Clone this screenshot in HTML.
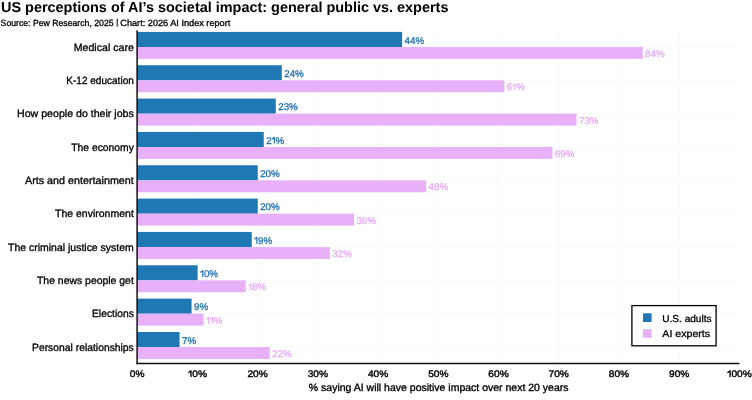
<!DOCTYPE html>
<html><head><meta charset="utf-8"><style>
html,body{margin:0;padding:0;background:#fff;width:752px;height:400px;overflow:hidden;font-family:"Liberation Sans",sans-serif;}
svg{display:block;will-change:transform} text{text-rendering:geometricPrecision}
</style></head><body>
<svg width="752" height="400" viewBox="0 0 752 400">
<rect width="752" height="400" fill="#fff"/>
<line x1="197.42" y1="30.3" x2="197.42" y2="363.5" stroke="#f8f8f8" stroke-width="0.8"/>
<line x1="257.64" y1="30.3" x2="257.64" y2="363.5" stroke="#f8f8f8" stroke-width="0.8"/>
<line x1="317.86" y1="30.3" x2="317.86" y2="363.5" stroke="#f8f8f8" stroke-width="0.8"/>
<line x1="378.08" y1="30.3" x2="378.08" y2="363.5" stroke="#f8f8f8" stroke-width="0.8"/>
<line x1="438.30" y1="30.3" x2="438.30" y2="363.5" stroke="#f8f8f8" stroke-width="0.8"/>
<line x1="498.52" y1="30.3" x2="498.52" y2="363.5" stroke="#f8f8f8" stroke-width="0.8"/>
<line x1="558.74" y1="30.3" x2="558.74" y2="363.5" stroke="#f8f8f8" stroke-width="0.8"/>
<line x1="618.96" y1="30.3" x2="618.96" y2="363.5" stroke="#f8f8f8" stroke-width="0.8"/>
<line x1="679.18" y1="30.3" x2="679.18" y2="363.5" stroke="#f8f8f8" stroke-width="0.8"/>
<line x1="137.45" y1="47.00" x2="739.5" y2="47.00" stroke="#f8f8f8" stroke-width="0.8"/>
<line x1="137.45" y1="80.34" x2="739.5" y2="80.34" stroke="#f8f8f8" stroke-width="0.8"/>
<line x1="137.45" y1="113.68" x2="739.5" y2="113.68" stroke="#f8f8f8" stroke-width="0.8"/>
<line x1="137.45" y1="147.02" x2="739.5" y2="147.02" stroke="#f8f8f8" stroke-width="0.8"/>
<line x1="137.45" y1="180.36" x2="739.5" y2="180.36" stroke="#f8f8f8" stroke-width="0.8"/>
<line x1="137.45" y1="213.70" x2="739.5" y2="213.70" stroke="#f8f8f8" stroke-width="0.8"/>
<line x1="137.45" y1="247.04" x2="739.5" y2="247.04" stroke="#f8f8f8" stroke-width="0.8"/>
<line x1="137.45" y1="280.38" x2="739.5" y2="280.38" stroke="#f8f8f8" stroke-width="0.8"/>
<line x1="137.45" y1="313.72" x2="739.5" y2="313.72" stroke="#f8f8f8" stroke-width="0.8"/>
<line x1="137.45" y1="347.06" x2="739.5" y2="347.06" stroke="#f8f8f8" stroke-width="0.8"/>
<rect x="137" y="31.90" width="265.11" height="15.1" fill="#1f77b4"/>
<rect x="137" y="47.00" width="505.71" height="11.9" fill="#e9b0fa"/>
<text y="43.60" font-size="9.8" fill="#1f70b2" stroke="#1f70b2" stroke-width="0.3" paint-order="stroke" font-family="Liberation Sans, sans-serif"><tspan x="404.51">4</tspan><tspan x="409.96">4</tspan><tspan x="415.41">%</tspan></text>
<text y="56.95" font-size="9.8" fill="#e3a7f5" stroke="#e3a7f5" stroke-width="0.25" paint-order="stroke" font-family="Liberation Sans, sans-serif"><tspan x="645.11">8</tspan><tspan x="650.56">4</tspan><tspan x="656.01">%</tspan></text>
<text x="133.8" y="50.55" font-size="10.6" text-anchor="end" textLength="60.05" lengthAdjust="spacingAndGlyphs" fill="#000" stroke="#000" stroke-width="0.32" paint-order="stroke" font-family="Liberation Sans, sans-serif">Medical care</text>
<rect x="137" y="65.24" width="144.81" height="15.1" fill="#1f77b4"/>
<rect x="137" y="80.34" width="367.36" height="11.9" fill="#e9b0fa"/>
<text y="76.94" font-size="9.8" fill="#1f70b2" stroke="#1f70b2" stroke-width="0.3" paint-order="stroke" font-family="Liberation Sans, sans-serif"><tspan x="284.21">2</tspan><tspan x="289.66">4</tspan><tspan x="295.11">%</tspan></text>
<text y="90.29" font-size="9.8" fill="#e3a7f5" stroke="#e3a7f5" stroke-width="0.25" paint-order="stroke" font-family="Liberation Sans, sans-serif"><tspan x="506.76">6</tspan><tspan x="516.13">%</tspan></text><path d="M512.56 85.87L514.93 83.97V90.29" fill="none" stroke="#e3a7f5" stroke-width="1.13" stroke-linejoin="round"/>
<text x="133.8" y="83.89" font-size="10.6" text-anchor="end" textLength="67.55" lengthAdjust="spacingAndGlyphs" fill="#000" stroke="#000" stroke-width="0.32" paint-order="stroke" font-family="Liberation Sans, sans-serif">K-12 education</text>
<rect x="137" y="98.58" width="138.79" height="15.1" fill="#1f77b4"/>
<rect x="137" y="113.68" width="439.54" height="11.9" fill="#e9b0fa"/>
<text y="110.28" font-size="9.8" fill="#1f70b2" stroke="#1f70b2" stroke-width="0.3" paint-order="stroke" font-family="Liberation Sans, sans-serif"><tspan x="278.19">2</tspan><tspan x="283.64">3</tspan><tspan x="289.09">%</tspan></text>
<text y="123.63" font-size="9.8" fill="#e3a7f5" stroke="#e3a7f5" stroke-width="0.25" paint-order="stroke" font-family="Liberation Sans, sans-serif"><tspan x="578.94">7</tspan><tspan x="584.39">3</tspan><tspan x="589.84">%</tspan></text>
<text x="133.8" y="117.23" font-size="10.6" text-anchor="end" textLength="116.80" lengthAdjust="spacingAndGlyphs" fill="#000" stroke="#000" stroke-width="0.32" paint-order="stroke" font-family="Liberation Sans, sans-serif">How people do their jobs</text>
<rect x="137" y="131.92" width="126.76" height="15.1" fill="#1f77b4"/>
<rect x="137" y="147.02" width="415.48" height="11.9" fill="#e9b0fa"/>
<text y="143.62" font-size="9.8" fill="#1f70b2" stroke="#1f70b2" stroke-width="0.3" paint-order="stroke" font-family="Liberation Sans, sans-serif"><tspan x="266.16">2</tspan><tspan x="275.53">%</tspan></text><path d="M271.96 139.20L274.33 137.30V143.62" fill="none" stroke="#1f70b2" stroke-width="1.18" stroke-linejoin="round"/>
<text y="156.97" font-size="9.8" fill="#e3a7f5" stroke="#e3a7f5" stroke-width="0.25" paint-order="stroke" font-family="Liberation Sans, sans-serif"><tspan x="554.88">6</tspan><tspan x="560.33">9</tspan><tspan x="565.78">%</tspan></text>
<text x="133.8" y="150.57" font-size="10.6" text-anchor="end" textLength="62.55" lengthAdjust="spacingAndGlyphs" fill="#000" stroke="#000" stroke-width="0.32" paint-order="stroke" font-family="Liberation Sans, sans-serif">The economy</text>
<rect x="137" y="165.26" width="120.75" height="15.1" fill="#1f77b4"/>
<rect x="137" y="180.36" width="289.17" height="11.9" fill="#e9b0fa"/>
<text y="176.96" font-size="9.8" fill="#1f70b2" stroke="#1f70b2" stroke-width="0.3" paint-order="stroke" font-family="Liberation Sans, sans-serif"><tspan x="260.15">2</tspan><tspan x="265.60">0</tspan><tspan x="271.05">%</tspan></text>
<text y="190.31" font-size="9.8" fill="#e3a7f5" stroke="#e3a7f5" stroke-width="0.25" paint-order="stroke" font-family="Liberation Sans, sans-serif"><tspan x="428.57">4</tspan><tspan x="434.02">8</tspan><tspan x="439.47">%</tspan></text>
<text x="133.8" y="183.91" font-size="10.6" text-anchor="end" textLength="108.80" lengthAdjust="spacingAndGlyphs" fill="#000" stroke="#000" stroke-width="0.32" paint-order="stroke" font-family="Liberation Sans, sans-serif">Arts and entertainment</text>
<rect x="137" y="198.60" width="120.75" height="15.1" fill="#1f77b4"/>
<rect x="137" y="213.70" width="216.99" height="11.9" fill="#e9b0fa"/>
<text y="210.30" font-size="9.8" fill="#1f70b2" stroke="#1f70b2" stroke-width="0.3" paint-order="stroke" font-family="Liberation Sans, sans-serif"><tspan x="260.15">2</tspan><tspan x="265.60">0</tspan><tspan x="271.05">%</tspan></text>
<text y="223.65" font-size="9.8" fill="#e3a7f5" stroke="#e3a7f5" stroke-width="0.25" paint-order="stroke" font-family="Liberation Sans, sans-serif"><tspan x="356.39">3</tspan><tspan x="361.84">6</tspan><tspan x="367.29">%</tspan></text>
<text x="133.8" y="217.25" font-size="10.6" text-anchor="end" textLength="78.80" lengthAdjust="spacingAndGlyphs" fill="#000" stroke="#000" stroke-width="0.32" paint-order="stroke" font-family="Liberation Sans, sans-serif">The environment</text>
<rect x="137" y="231.94" width="114.73" height="15.1" fill="#1f77b4"/>
<rect x="137" y="247.04" width="192.93" height="11.9" fill="#e9b0fa"/>
<text y="243.64" font-size="9.8" fill="#1f70b2" stroke="#1f70b2" stroke-width="0.3" paint-order="stroke" font-family="Liberation Sans, sans-serif"><tspan x="258.06">9</tspan><tspan x="263.50">%</tspan></text><path d="M254.48 239.22L256.86 237.32V243.64" fill="none" stroke="#1f70b2" stroke-width="1.18" stroke-linejoin="round"/>
<text y="256.99" font-size="9.8" fill="#e3a7f5" stroke="#e3a7f5" stroke-width="0.25" paint-order="stroke" font-family="Liberation Sans, sans-serif"><tspan x="332.33">3</tspan><tspan x="337.78">2</tspan><tspan x="343.23">%</tspan></text>
<text x="133.8" y="250.59" font-size="10.6" text-anchor="end" textLength="125.80" lengthAdjust="spacingAndGlyphs" fill="#000" stroke="#000" stroke-width="0.32" paint-order="stroke" font-family="Liberation Sans, sans-serif">The criminal justice system</text>
<rect x="137" y="265.28" width="60.60" height="15.1" fill="#1f77b4"/>
<rect x="137" y="280.38" width="108.72" height="11.9" fill="#e9b0fa"/>
<text y="276.98" font-size="9.8" fill="#1f70b2" stroke="#1f70b2" stroke-width="0.3" paint-order="stroke" font-family="Liberation Sans, sans-serif"><tspan x="203.92">0</tspan><tspan x="209.37">%</tspan></text><path d="M200.35 272.56L202.72 270.66V276.98" fill="none" stroke="#1f70b2" stroke-width="1.18" stroke-linejoin="round"/>
<text y="290.33" font-size="9.8" fill="#e3a7f5" stroke="#e3a7f5" stroke-width="0.25" paint-order="stroke" font-family="Liberation Sans, sans-serif"><tspan x="252.04">8</tspan><tspan x="257.49">%</tspan></text><path d="M248.47 285.91L250.84 284.01V290.33" fill="none" stroke="#e3a7f5" stroke-width="1.13" stroke-linejoin="round"/>
<text x="133.8" y="283.93" font-size="10.6" text-anchor="end" textLength="96.80" lengthAdjust="spacingAndGlyphs" fill="#000" stroke="#000" stroke-width="0.32" paint-order="stroke" font-family="Liberation Sans, sans-serif">The news people get</text>
<rect x="137" y="298.62" width="54.58" height="15.1" fill="#1f77b4"/>
<rect x="137" y="313.72" width="66.61" height="11.9" fill="#e9b0fa"/>
<text y="310.32" font-size="9.8" fill="#1f70b2" stroke="#1f70b2" stroke-width="0.3" paint-order="stroke" font-family="Liberation Sans, sans-serif"><tspan x="193.98">9</tspan><tspan x="199.43">%</tspan></text>
<text y="323.67" font-size="9.8" fill="#e3a7f5" stroke="#e3a7f5" stroke-width="0.25" paint-order="stroke" font-family="Liberation Sans, sans-serif"><tspan x="213.85">%</tspan></text><path d="M206.36 319.25L208.73 317.35V323.67" fill="none" stroke="#e3a7f5" stroke-width="1.13" stroke-linejoin="round"/><path d="M210.28 319.25L212.65 317.35V323.67" fill="none" stroke="#e3a7f5" stroke-width="1.13" stroke-linejoin="round"/>
<text x="133.8" y="317.27" font-size="10.6" text-anchor="end" textLength="41.80" lengthAdjust="spacingAndGlyphs" fill="#000" stroke="#000" stroke-width="0.32" paint-order="stroke" font-family="Liberation Sans, sans-serif">Elections</text>
<rect x="137" y="331.96" width="42.55" height="15.1" fill="#1f77b4"/>
<rect x="137" y="347.06" width="132.78" height="11.9" fill="#e9b0fa"/>
<text y="343.66" font-size="9.8" fill="#1f70b2" stroke="#1f70b2" stroke-width="0.3" paint-order="stroke" font-family="Liberation Sans, sans-serif"><tspan x="181.95">7</tspan><tspan x="187.40">%</tspan></text>
<text y="357.01" font-size="9.8" fill="#e3a7f5" stroke="#e3a7f5" stroke-width="0.25" paint-order="stroke" font-family="Liberation Sans, sans-serif"><tspan x="272.18">2</tspan><tspan x="277.63">2</tspan><tspan x="283.08">%</tspan></text>
<text x="133.8" y="350.61" font-size="10.6" text-anchor="end" textLength="101.80" lengthAdjust="spacingAndGlyphs" fill="#000" stroke="#000" stroke-width="0.32" paint-order="stroke" font-family="Liberation Sans, sans-serif">Personal relationships</text>
<line x1="137.1" y1="30.3" x2="137.1" y2="364.2" stroke="#111" stroke-width="1.5"/>
<line x1="136.4" y1="363.5" x2="739.5" y2="363.5" stroke="#111" stroke-width="1.5"/>
<g transform="translate(137.20 0) scale(1.07 1) translate(-137.20 0)"><text y="377.00" font-size="9.5" fill="#000" stroke="#000" stroke-width="0.4" paint-order="stroke" font-family="Liberation Sans, sans-serif"><tspan x="130.34">0</tspan><tspan x="135.62">%</tspan></text></g>
<g transform="translate(197.42 0) scale(1.07 1) translate(-197.42 0)"><text y="377.00" font-size="9.5" fill="#000" stroke="#000" stroke-width="0.4" paint-order="stroke" font-family="Liberation Sans, sans-serif"><tspan x="192.60">0</tspan><tspan x="197.88">%</tspan></text><path d="M188.86 372.77L191.40 370.87V377.00" fill="none" stroke="#000" stroke-width="1.25" stroke-linejoin="round"/></g>
<g transform="translate(257.64 0) scale(1.07 1) translate(-257.64 0)"><text y="377.00" font-size="9.5" fill="#000" stroke="#000" stroke-width="0.4" paint-order="stroke" font-family="Liberation Sans, sans-serif"><tspan x="248.14">2</tspan><tspan x="253.42">0</tspan><tspan x="258.70">%</tspan></text></g>
<g transform="translate(317.86 0) scale(1.07 1) translate(-317.86 0)"><text y="377.00" font-size="9.5" fill="#000" stroke="#000" stroke-width="0.4" paint-order="stroke" font-family="Liberation Sans, sans-serif"><tspan x="308.36">3</tspan><tspan x="313.64">0</tspan><tspan x="318.92">%</tspan></text></g>
<g transform="translate(378.08 0) scale(1.07 1) translate(-378.08 0)"><text y="377.00" font-size="9.5" fill="#000" stroke="#000" stroke-width="0.4" paint-order="stroke" font-family="Liberation Sans, sans-serif"><tspan x="368.58">4</tspan><tspan x="373.86">0</tspan><tspan x="379.14">%</tspan></text></g>
<g transform="translate(438.30 0) scale(1.07 1) translate(-438.30 0)"><text y="377.00" font-size="9.5" fill="#000" stroke="#000" stroke-width="0.4" paint-order="stroke" font-family="Liberation Sans, sans-serif"><tspan x="428.80">5</tspan><tspan x="434.08">0</tspan><tspan x="439.36">%</tspan></text></g>
<g transform="translate(498.52 0) scale(1.07 1) translate(-498.52 0)"><text y="377.00" font-size="9.5" fill="#000" stroke="#000" stroke-width="0.4" paint-order="stroke" font-family="Liberation Sans, sans-serif"><tspan x="489.02">6</tspan><tspan x="494.30">0</tspan><tspan x="499.58">%</tspan></text></g>
<g transform="translate(558.74 0) scale(1.07 1) translate(-558.74 0)"><text y="377.00" font-size="9.5" fill="#000" stroke="#000" stroke-width="0.4" paint-order="stroke" font-family="Liberation Sans, sans-serif"><tspan x="549.24">7</tspan><tspan x="554.52">0</tspan><tspan x="559.80">%</tspan></text></g>
<g transform="translate(618.96 0) scale(1.07 1) translate(-618.96 0)"><text y="377.00" font-size="9.5" fill="#000" stroke="#000" stroke-width="0.4" paint-order="stroke" font-family="Liberation Sans, sans-serif"><tspan x="609.46">8</tspan><tspan x="614.74">0</tspan><tspan x="620.02">%</tspan></text></g>
<g transform="translate(679.18 0) scale(1.07 1) translate(-679.18 0)"><text y="377.00" font-size="9.5" fill="#000" stroke="#000" stroke-width="0.4" paint-order="stroke" font-family="Liberation Sans, sans-serif"><tspan x="669.68">9</tspan><tspan x="674.96">0</tspan><tspan x="680.24">%</tspan></text></g>
<g transform="translate(739.40 0) scale(1.07 1) translate(-739.40 0)"><text y="377.00" font-size="9.5" fill="#000" stroke="#000" stroke-width="0.4" paint-order="stroke" font-family="Liberation Sans, sans-serif"><tspan x="731.94">0</tspan><tspan x="737.22">0</tspan><tspan x="742.50">%</tspan></text><path d="M728.20 372.77L730.74 370.87V377.00" fill="none" stroke="#000" stroke-width="1.25" stroke-linejoin="round"/></g>
<text x="438.7" y="390.5" font-size="10.5" text-anchor="middle" fill="#000" stroke="#000" stroke-width="0.34" paint-order="stroke" font-family="Liberation Sans, sans-serif">% saying AI will have positive impact over next 20 years</text>
<rect x="631.9" y="305.6" width="84.2" height="40.2" fill="#fff" stroke="#000" stroke-width="1.3"/>
<rect x="643" y="313.3" width="8.6" height="8.7" fill="#1f77b4"/>
<rect x="643" y="329.1" width="8.6" height="8.7" fill="#e9b0fa"/>
<text x="662.3" y="322" font-size="10" textLength="49.2" lengthAdjust="spacingAndGlyphs" fill="#000" stroke="#000" stroke-width="0.32" paint-order="stroke" font-family="Liberation Sans, sans-serif">U.S. adults</text>
<text x="662.3" y="337.1" font-size="10" textLength="47.8" lengthAdjust="spacingAndGlyphs" fill="#000" stroke="#000" stroke-width="0.32" paint-order="stroke" font-family="Liberation Sans, sans-serif">AI experts</text>
<text x="1" y="12.0" font-size="14.45" font-weight="bold" fill="#000" font-family="Liberation Sans, sans-serif">US perceptions of AI’s societal impact: general public vs. experts</text>
<text x="0.6" y="25.5" font-size="9" textLength="113.0" lengthAdjust="spacingAndGlyphs" fill="#000" stroke="#000" stroke-width="0.3" paint-order="stroke" font-family="Liberation Sans, sans-serif">Source: Pew Research, 2025</text>
<rect x="116.7" y="18.7" width="1.0" height="8.0" fill="#000"/>
<text x="120.3" y="25.5" font-size="9" textLength="110.0" lengthAdjust="spacingAndGlyphs" fill="#000" stroke="#000" stroke-width="0.3" paint-order="stroke" font-family="Liberation Sans, sans-serif">Chart: 2026 AI Index report</text>
</svg>
</body></html>
